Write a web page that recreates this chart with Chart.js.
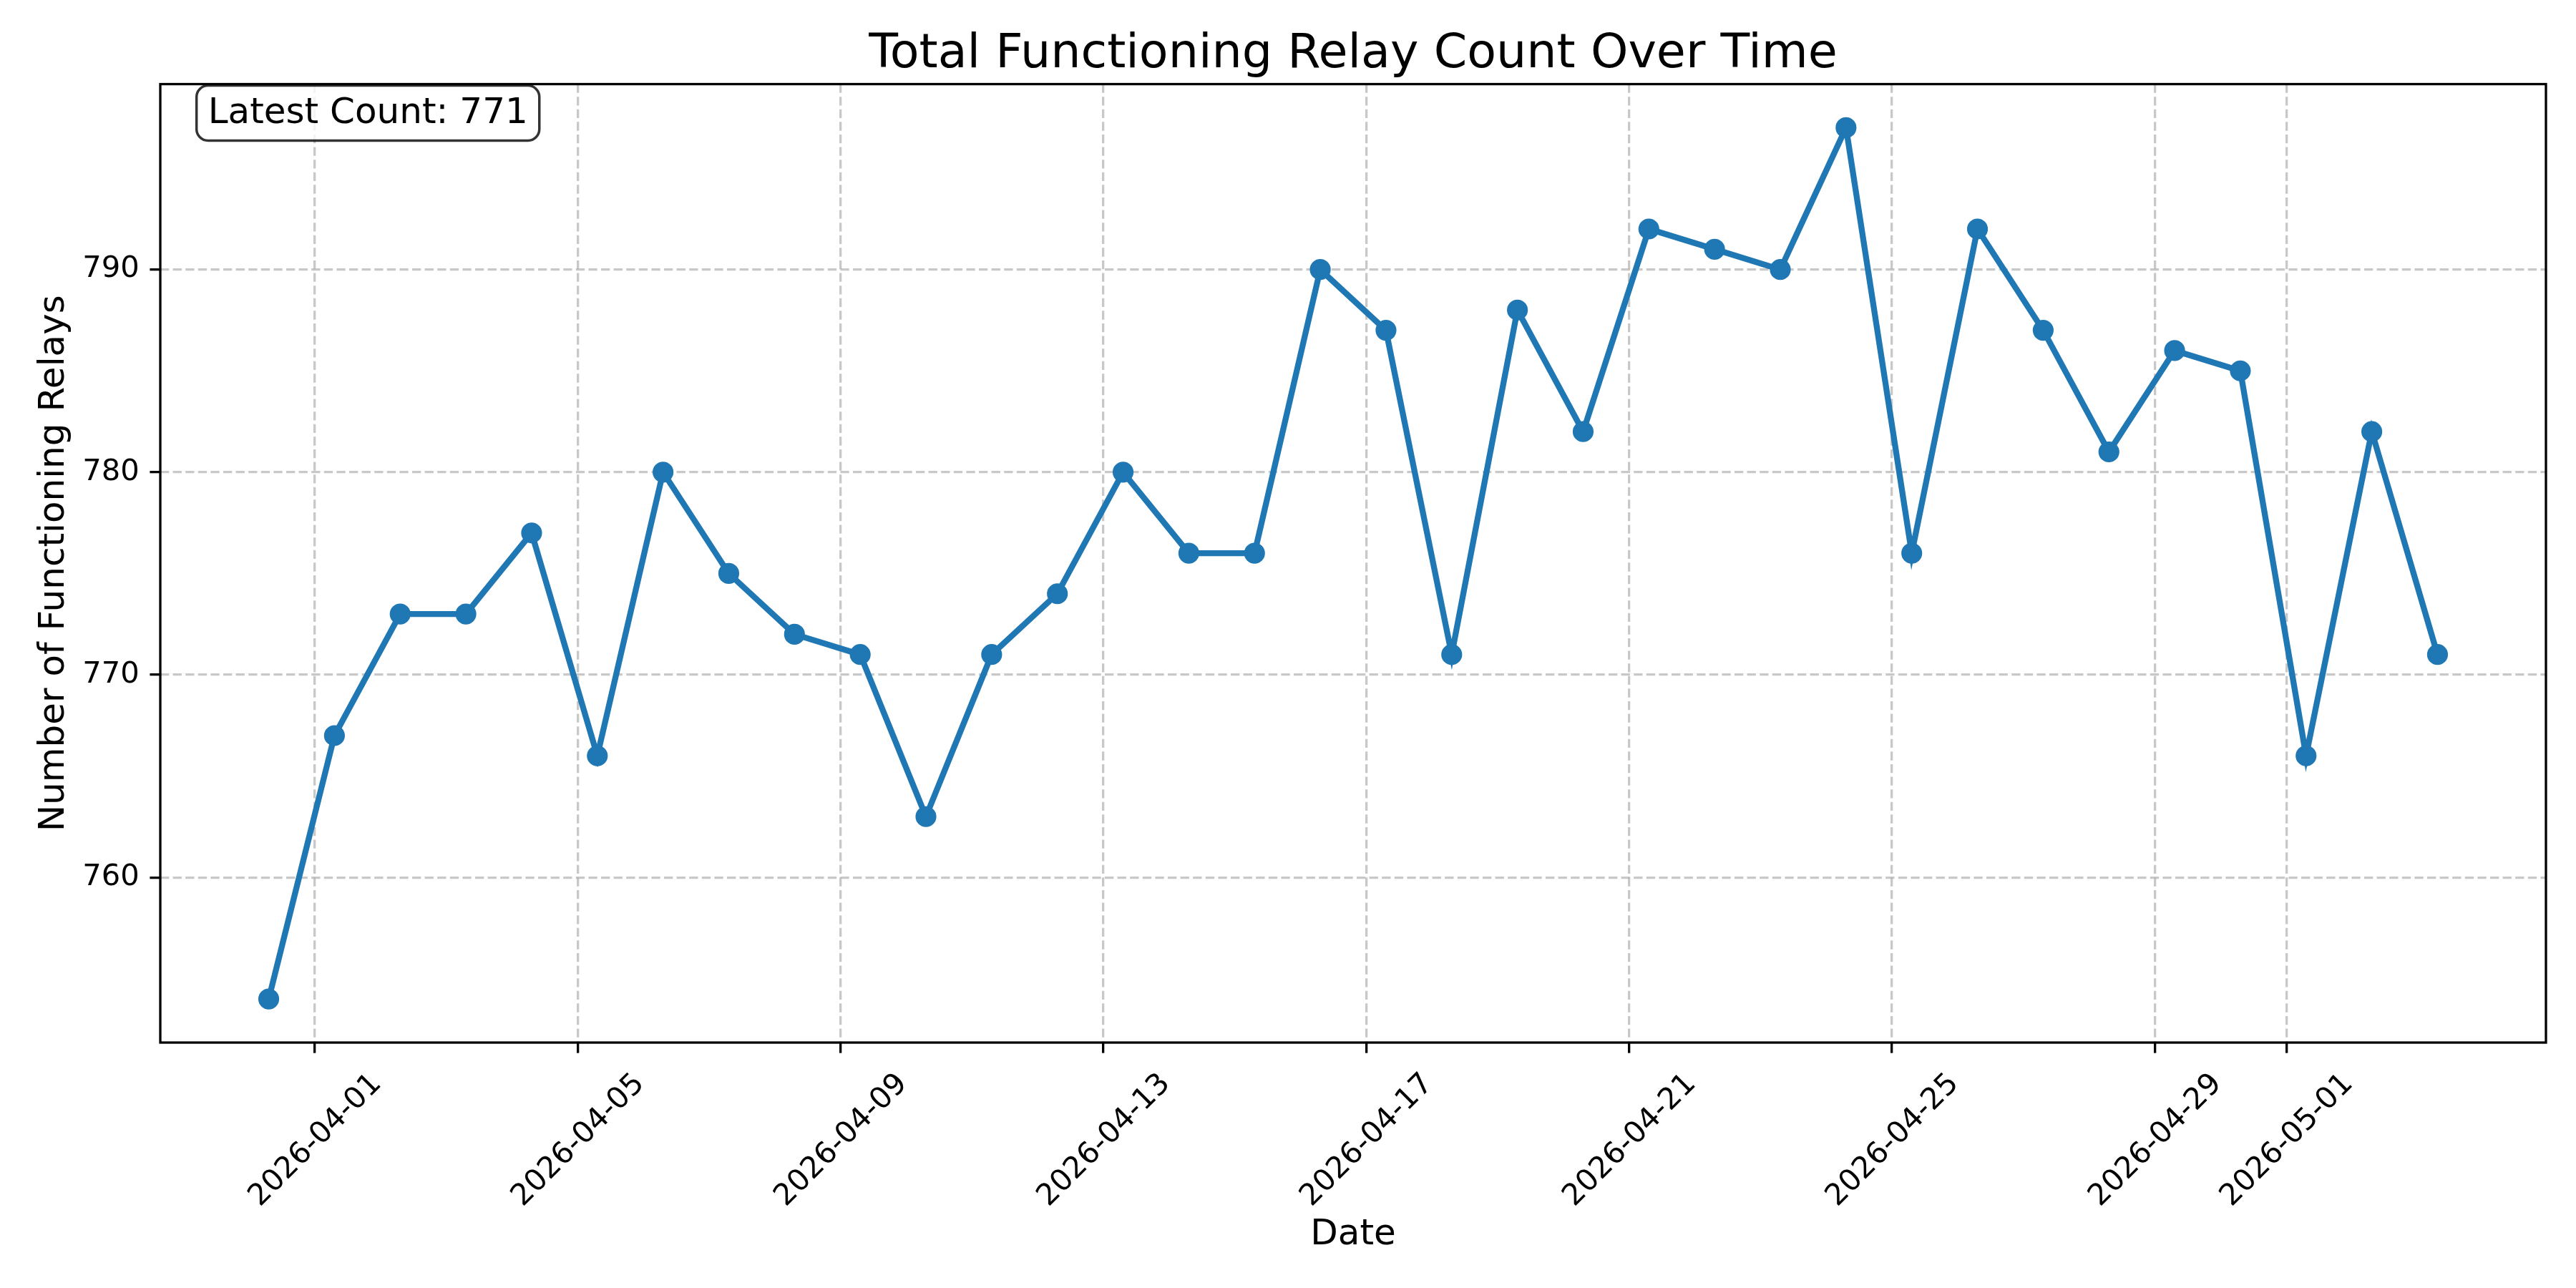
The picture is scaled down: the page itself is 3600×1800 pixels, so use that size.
<!DOCTYPE html>
<html>
<head>
<meta charset="utf-8">
<script src="https://cdn.jsdelivr.net/npm/chart.js@4.4.1/dist/chart.umd.min.js"></script>
<style>
  html, body { margin: 0; padding: 0; background: #ffffff; }
</style>
</head>
<body>
<canvas id="myChart" width="3600" height="1800"></canvas>
<script>
// Fechas de cada medición (una por día)
const fechas = [
    '2026-03-31T07:12:00Z', '2026-04-01T07:12:00Z', '2026-04-02T07:12:00Z', '2026-04-03T07:12:00Z',
    '2026-04-04T07:12:00Z', '2026-04-05T07:12:00Z', '2026-04-06T07:12:00Z', '2026-04-07T07:12:00Z',
    '2026-04-08T07:12:00Z', '2026-04-09T07:12:00Z', '2026-04-10T07:12:00Z', '2026-04-11T07:12:00Z',
    '2026-04-12T07:12:00Z', '2026-04-13T07:12:00Z', '2026-04-14T07:12:00Z', '2026-04-15T07:12:00Z',
    '2026-04-16T07:12:00Z', '2026-04-17T07:12:00Z', '2026-04-18T07:12:00Z', '2026-04-19T07:12:00Z',
    '2026-04-20T07:12:00Z', '2026-04-21T07:12:00Z', '2026-04-22T07:12:00Z', '2026-04-23T07:12:00Z',
    '2026-04-24T07:12:00Z', '2026-04-25T07:12:00Z', '2026-04-26T07:12:00Z', '2026-04-27T07:12:00Z',
    '2026-04-28T07:12:00Z', '2026-04-29T07:12:00Z', '2026-04-30T07:12:00Z', '2026-05-01T07:12:00Z',
    '2026-05-02T07:12:00Z', '2026-05-03T07:12:00Z'
];

// Número de relays funcionando
const relays = [
    754, 767, 773, 773, 777, 766, 780, 775, 772, 771,
    763, 771, 774, 780, 776, 776, 790, 787, 771, 788,
    782, 792, 791, 790, 797, 776, 792, 787, 781, 786,
    785, 766, 782, 771
];

// Marcas de los ejes
const xTickDates = ['2026-04-01', '2026-04-05', '2026-04-09', '2026-04-13', '2026-04-17',
                    '2026-04-21', '2026-04-25', '2026-04-29', '2026-05-01'];
const yTicks = [760, 770, 780, 790];

const FUENTE = "'DejaVu Sans', 'Liberation Sans', sans-serif";

const tiempos = fechas.map(f => Date.parse(f));
const puntos = tiempos.map((t, i) => ({ x: t, y: relays[i] }));

// márgenes tipo matplotlib (5%)
const xMin = Math.min(...tiempos), xMax = Math.max(...tiempos);
const yMin = Math.min(...relays), yMax = Math.max(...relays);
const xPad = (xMax - xMin) * 0.05, yPad = (yMax - yMin) * 0.05;

// Marco completo y caja de texto
const marco = {
    id: 'marco',
    afterDatasetsDraw(chart) {
        const { ctx, chartArea: a } = chart;
        ctx.save();
        ctx.strokeStyle = '#000000';
        ctx.lineWidth = 3.3;
        ctx.strokeRect(a.left, a.top, a.right - a.left, a.bottom - a.top);

        const texto = 'Latest Count: ' + relays[relays.length - 1];
        ctx.font = '50px ' + FUENTE;
        const tx = a.left + 0.02 * (a.right - a.left);
        const ty = a.top + 54.5;
        const ancho = ctx.measureText(texto).width;
        const bx = tx - 16, by = a.top + 2, bw = ancho + 32, bh = 77;
        ctx.beginPath();
        ctx.roundRect(bx, by, bw, bh, 16);
        ctx.fillStyle = 'rgba(255,255,255,0.8)';
        ctx.fill();
        ctx.lineWidth = 3.5;
        ctx.strokeStyle = 'rgba(0,0,0,0.8)';
        ctx.stroke();
        ctx.fillStyle = '#000000';
        ctx.textBaseline = 'alphabetic';
        ctx.textAlign = 'left';
        ctx.fillText(texto, tx, ty);
        ctx.restore();
    }
};

const ctx = document.getElementById('myChart');

new Chart(ctx, {
    type: 'line',
    data: {
        datasets: [{
            data: puntos,
            borderColor: '#1f77b4',
            backgroundColor: '#1f77b4',
            borderWidth: 8.3,
            tension: 0,
            pointRadius: 12.5,
            pointBorderWidth: 4.2,
            pointBackgroundColor: '#1f77b4',
            pointBorderColor: '#1f77b4',
            fill: false
        }]
    },
    options: {
        responsive: false,
        devicePixelRatio: 1,
        animation: false,
        layout: { padding: { left: 0, right: 42, top: 0, bottom: 0 } },
        plugins: {
            legend: { display: false },
            tooltip: { enabled: false },
            title: {
                display: true,
                fullSize: false,
                text: 'Total Functioning Relay Count Over Time',
                color: '#000000',
                font: { family: FUENTE, size: 66.7, weight: 'normal', lineHeight: 1.2 },
                padding: { top: 37, bottom: 0.5 }
            }
        },
        scales: {
            x: {
                type: 'linear',
                min: xMin - xPad,
                max: xMax + xPad,
                afterBuildTicks: (scale) => {
                    scale.ticks = xTickDates.map(d => ({ value: Date.parse(d + 'T00:00:00Z') }));
                },
                afterFit: (scale) => { scale.height = 343; },
                ticks: {
                    autoSkip: false,
                    maxRotation: 45,
                    minRotation: 45,
                    padding: 19,
                    labelOffset: 87,
                    color: '#000000',
                    font: { family: FUENTE, size: 41.7 },
                    callback: (v) => new Date(v).toISOString().slice(0, 10)
                },
                grid: {
                    color: 'rgba(176,176,176,0.7)',
                    lineWidth: 3.3,
                    tickLength: 14.6,
                    tickWidth: 3.3,
                    tickColor: '#000000',
                    tickBorderDash: []
                },
                border: { display: false, dash: [12.3, 5.3] },
                title: {
                    display: true,
                    text: 'Date',
                    color: '#000000',
                    font: { family: FUENTE, size: 50, lineHeight: 1.2 },
                    padding: { top: 0, bottom: 44 }
                }
            },
            y: {
                type: 'linear',
                min: yMin - yPad,
                max: yMax + yPad,
                afterBuildTicks: (scale) => {
                    scale.ticks = yTicks.map(v => ({ value: v }));
                },
                afterFit: (scale) => { scale.width = 224; },
                ticks: {
                    padding: 14.6,
                    color: '#000000',
                    font: { family: FUENTE, size: 41.7 },
                    callback: (v) => String(v)
                },
                grid: {
                    color: 'rgba(176,176,176,0.7)',
                    lineWidth: 3.3,
                    tickLength: 14.6,
                    tickWidth: 3.3,
                    tickColor: '#000000',
                    tickBorderDash: []
                },
                border: { display: false, dash: [12.3, 5.3] },
                title: {
                    display: true,
                    text: 'Number of Functioning Relays',
                    color: '#000000',
                    font: { family: FUENTE, size: 50, lineHeight: 1.2 },
                    padding: { top: 46, bottom: 0 }
                }
            }
        }
    },
    plugins: [marco]
});
</script>
</body>
</html>
